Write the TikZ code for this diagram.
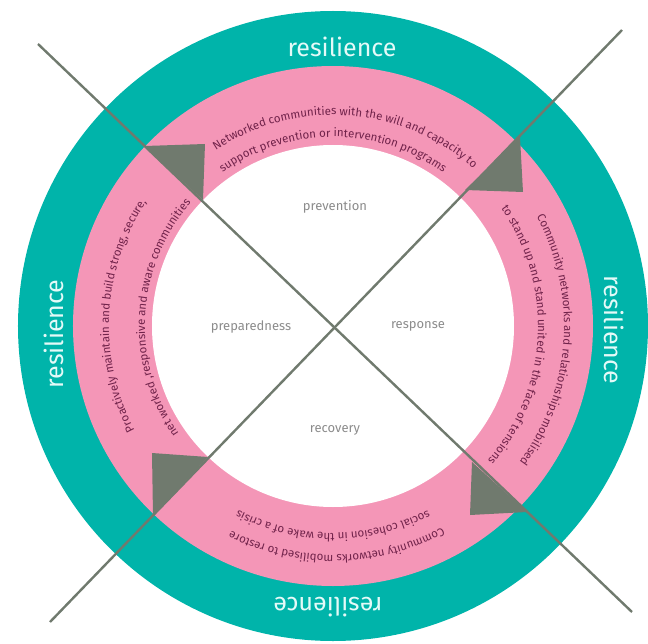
\documentclass[tikz,border=0pt]{standalone}
\usepackage{fontspec}
\setmainfont{Fira Sans}
\usepackage{tikz}
\usetikzlibrary{decorations.text}
\usepackage{xcolor}
\definecolor{ringteal}{RGB}{0,180,170}
\definecolor{ringpink}{RGB}{244,150,183}
\definecolor{flaggrey}{RGB}{112,122,110}
\definecolor{bandtext}{RGB}{112,34,74}
\definecolor{phasegrey}{RGB}{140,140,140}
\definecolor{ringword}{RGB}{228,250,248}
\newcommand{\bandfont}{\fontsize{11.5}{14}\selectfont}
\newcommand{\ringfont}{\fontsize{25}{30}\selectfont}
\newcommand{\phasefont}{\fontsize{13}{16}\selectfont}

\begin{document}
\begin{tikzpicture}[x = 1pt, y = 1pt,
	ring/.style = {font = \ringfont, text = ringword, inner sep = 0pt},
	phase/.style = {font = \phasefont, text = phasegrey, inner sep = 0pt},
	axis/.style = {draw = flaggrey, line width = 2.4pt},
	flag/.style = {fill = flaggrey},
	band/.style = {decorate, decoration = {text along path, text align = center,
		text color = bandtext, text = {|\bandfont|#1}}}]
	\useasboundingbox (-333, -317) rectangle (315, 326);
	\fill[ringteal] (0, 0) circle[radius = 315];
	\fill[ringpink] (0, 0) circle[radius = 260];
	\fill[white]    (0, 0) circle[radius = 181];
	\node[ring] (resN) at (9, 279) {resilience};
	\node[ring, rotate = -90] (resE) at (281, -4) {resilience};
	\node[ring, rotate = 180] (resS) at (-5, -281) {resilience};
	\node[ring, rotate = 90]  (resW) at (-279, -8) {resilience};
	\path[band = {Networked communities with the will and capacity to}]
		(156:211) arc[start angle = 156, end angle = 16, radius = 211];
	\path[band = {support prevention or intervention programs}]
		(160:189) arc[start angle = 160, end angle = 20, radius = 189];
	\path[band = {Community networks and relationships mobilised}]
		(66:231) arc[start angle = 66, end angle = -74, radius = 231];
	\path[band = {to stand up and stand united in the face of tensions}]
		(67:205) arc[start angle = 67, end angle = -73, radius = 205];
	\path[band = {Community networks mobilised to restore}]
		(-19:229) arc[start angle = -19, end angle = -159, radius = 229];
	\path[band = {social cohesion in the wake of a crisis}]
		(-20:207) arc[start angle = -20, end angle = -160, radius = 207];
	\path[band = {Proactively maintain and build strong, secure,}]
		(247:224) arc[start angle = 247, end angle = 107, radius = 224];
	\path[band = {net worked ,responsive and aware communities}]
		(247:188) arc[start angle = 247, end angle = 107, radius = 188];
	\node[phase] (prevention)   at (2, 119)  {prevention};
	\node[phase] (preparedness) at (-82, -1) {preparedness};
	\node[phase] (response)     at (85, 0)   {response};
	\node[phase] (recovery)     at (2, -104) {recovery};
	\coordinate (nw) at (-295, 282);
	\coordinate (se) at (299, -286);
	\coordinate (sw) at (-283, -296);
	\coordinate (ne) at (289, 296);
	\draw[axis] (nw) -- (se);
	\draw[axis] (sw) -- (ne);
	\fill[flag] (-188, 180) -- (-128, 182) -- (-130, 126) -- cycle;
	\fill[flag] (187, 189) -- (190, 134) -- (132, 136) -- cycle;
	\fill[flag] (139, -136) -- (194, -186) -- (137, -189) -- cycle;
	\fill[flag] (-125, -131) -- (-180, -189) -- (-181, -127) -- cycle;
\end{tikzpicture}
\end{document}
